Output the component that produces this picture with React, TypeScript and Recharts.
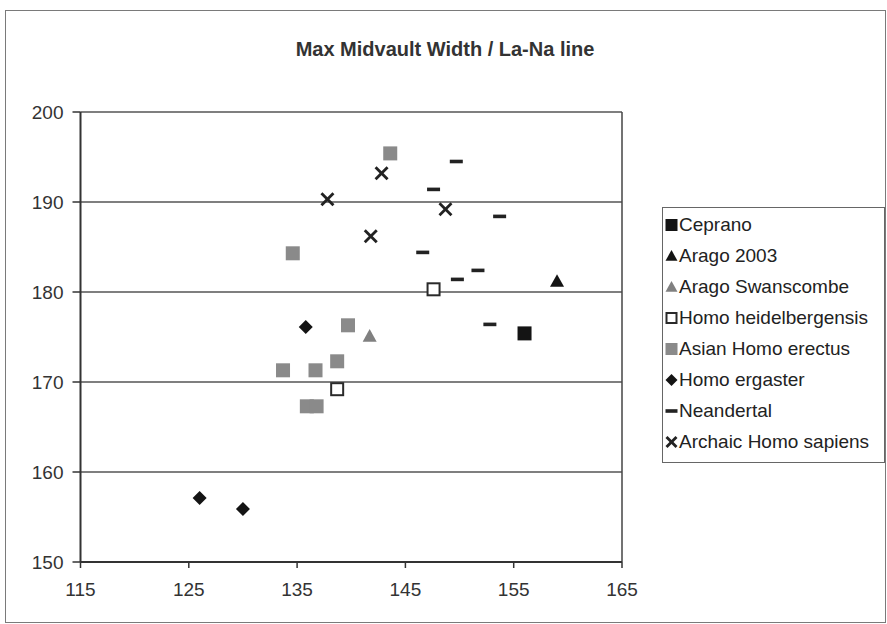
import React from 'react';
import { ScatterChart, Scatter, XAxis, YAxis, CartesianGrid, ReferenceLine } from 'recharts';

const FONT = '"Liberation Sans", Arial, Helvetica, sans-serif';

// Max midvault width (x) vs La-Na line (y)
const ceprano = [{ x: 156, y: 175.4 }];
const arago2003 = [{ x: 159, y: 181.2 }];
const aragoSwanscombe = [{ x: 141.7, y: 175.1 }];
const heidelbergensis = [
  { x: 147.6, y: 180.3 },
  { x: 138.7, y: 169.2 },
];
const asianErectus = [
  { x: 143.6, y: 195.4 },
  { x: 134.6, y: 184.3 },
  { x: 139.7, y: 176.3 },
  { x: 138.7, y: 172.3 },
  { x: 133.7, y: 171.3 },
  { x: 136.7, y: 171.3 },
  { x: 135.9, y: 167.3 },
  { x: 136.8, y: 167.3 },
];
const ergaster = [
  { x: 135.8, y: 176.1 },
  { x: 126, y: 157.1 },
  { x: 130, y: 155.9 },
];
const neandertal = [
  { x: 149.7, y: 194.5 },
  { x: 147.6, y: 191.4 },
  { x: 153.7, y: 188.4 },
  { x: 146.6, y: 184.4 },
  { x: 151.7, y: 182.4 },
  { x: 149.8, y: 181.4 },
  { x: 152.8, y: 176.4 },
];
const archaicSapiens = [
  { x: 137.8, y: 190.3 },
  { x: 142.8, y: 193.2 },
  { x: 148.7, y: 189.2 },
  { x: 141.8, y: 186.2 },
];

const xTicks = [115, 125, 135, 145, 155, 165];
const yTicks = [150, 160, 170, 180, 190, 200];

type Kind = 'square' | 'triangle' | 'open' | 'diamond' | 'dash' | 'cross';

const seriesList: { name: string; data: { x: number; y: number }[]; kind: Kind; color: string }[] = [
  { name: 'Ceprano', data: ceprano, kind: 'square', color: '#141414' },
  { name: 'Arago 2003', data: arago2003, kind: 'triangle', color: '#141414' },
  { name: 'Arago Swanscombe', data: aragoSwanscombe, kind: 'triangle', color: '#808080' },
  { name: 'Homo heidelbergensis', data: heidelbergensis, kind: 'open', color: '#2a2a2a' },
  { name: 'Asian Homo erectus', data: asianErectus, kind: 'square', color: '#8a8a8a' },
  { name: 'Homo ergaster', data: ergaster, kind: 'diamond', color: '#141414' },
  { name: 'Neandertal', data: neandertal, kind: 'dash', color: '#222222' },
  { name: 'Archaic Homo sapiens', data: archaicSapiens, kind: 'cross', color: '#222222' },
];

function Marker({ kind, color, cx, cy, s }: { kind: Kind; color: string; cx: number; cy: number; s: number }) {
  const h = s / 2;
  switch (kind) {
    case 'square':
      return <rect x={cx - h} y={cy - h} width={s} height={s} fill={color} />;
    case 'open':
      return <rect x={cx - h + 1} y={cy - h + 1} width={s - 2} height={s - 2} fill="#fff" stroke={color} strokeWidth={2} />;
    case 'triangle':
      return <polygon points={`${cx},${cy - h} ${cx + h},${cy + h * 0.8} ${cx - h},${cy + h * 0.8}`} fill={color} />;
    case 'diamond':
      return <polygon points={`${cx},${cy - h} ${cx + h},${cy} ${cx},${cy + h} ${cx - h},${cy}`} fill={color} />;
    case 'dash':
      return <rect x={cx - h} y={cy - 1.8} width={s} height={3.6} fill={color} />;
    case 'cross':
      return (
        <g stroke={color} strokeWidth={2.8}>
          <line x1={cx - h + 1} y1={cy - h + 1} x2={cx + h - 1} y2={cy + h - 1} />
          <line x1={cx - h + 1} y1={cy + h - 1} x2={cx + h - 1} y2={cy - h + 1} />
        </g>
      );
  }
  return null;
}

const markerShape = (kind: Kind, color: string) => (props: any) => (
  <Marker kind={kind} color={color} cx={props.cx} cy={props.cy} s={kind === 'dash' ? 13 : 14} />
);

function LegendBox() {
  return (
    <div
      style={{
        position: 'absolute',
        left: 662,
        top: 207,
        width: 221,
        height: 253,
        border: '1px solid #666',
        background: '#fff',
        paddingTop: 1,
      }}
    >
      {seriesList.map((s) => (
        <div key={s.name} style={{ height: 31, display: 'flex', alignItems: 'center' }}>
          <svg width={15} height={16} style={{ marginLeft: 1 }}>
            <Marker kind={s.kind} color={s.color} cx={7.5} cy={8} s={12} />
          </svg>
          <span style={{ fontFamily: FONT, fontSize: 19, color: '#222', whiteSpace: 'nowrap' }}>{s.name}</span>
        </div>
      ))}
    </div>
  );
}

export default function App() {
  return (
    <div style={{ position: 'absolute', left: 0, top: 0, width: 887, height: 624, background: '#fff' }}>
      <div
        style={{
          position: 'absolute',
          left: 5,
          top: 10,
          width: 879,
          height: 611,
          border: '1px solid #7a7a7a',
        }}
      />
      <div
        style={{
          position: 'absolute',
          left: 5,
          width: 880,
          top: 38,
          textAlign: 'center',
          fontFamily: FONT,
          fontWeight: 'bold',
          fontSize: 20,
          color: '#333',
        }}
      >
        Max Midvault Width / La-Na line
      </div>
      <div style={{ position: 'absolute', left: 0, top: 0 }}>
        <ScatterChart width={887} height={624} margin={{ top: 112, right: 265, bottom: 22, left: 5 }}>
          <CartesianGrid vertical={false} stroke="#555" strokeWidth={1.5} />
          <XAxis
            type="number"
            dataKey="x"
            domain={[115, 165]}
            ticks={xTicks}
            allowDataOverflow
            height={40}
            tickSize={6}
            tickMargin={15}
            axisLine={{ stroke: '#333', strokeWidth: 2 }}
            tickLine={{ stroke: '#333', strokeWidth: 1.5 }}
            tick={{ fill: '#333', fontSize: 19, fontFamily: FONT }}
          />
          <YAxis
            type="number"
            dataKey="y"
            domain={[150, 200]}
            ticks={yTicks}
            allowDataOverflow
            width={75.5}
            tickSize={8}
            tickMargin={9}
            axisLine={{ stroke: '#333', strokeWidth: 2 }}
            tickLine={{ stroke: '#333', strokeWidth: 1.5 }}
            tick={{ fill: '#333', fontSize: 19, fontFamily: FONT }}
          />
          <ReferenceLine x={165} stroke="#444" strokeWidth={1.5} />
          {seriesList.map((s) => (
            <Scatter
              key={s.name}
              name={s.name}
              data={s.data}
              fill={s.color}
              shape={markerShape(s.kind, s.color)}
              isAnimationActive={false}
            />
          ))}
        </ScatterChart>
      </div>
      <LegendBox />
    </div>
  );
}
